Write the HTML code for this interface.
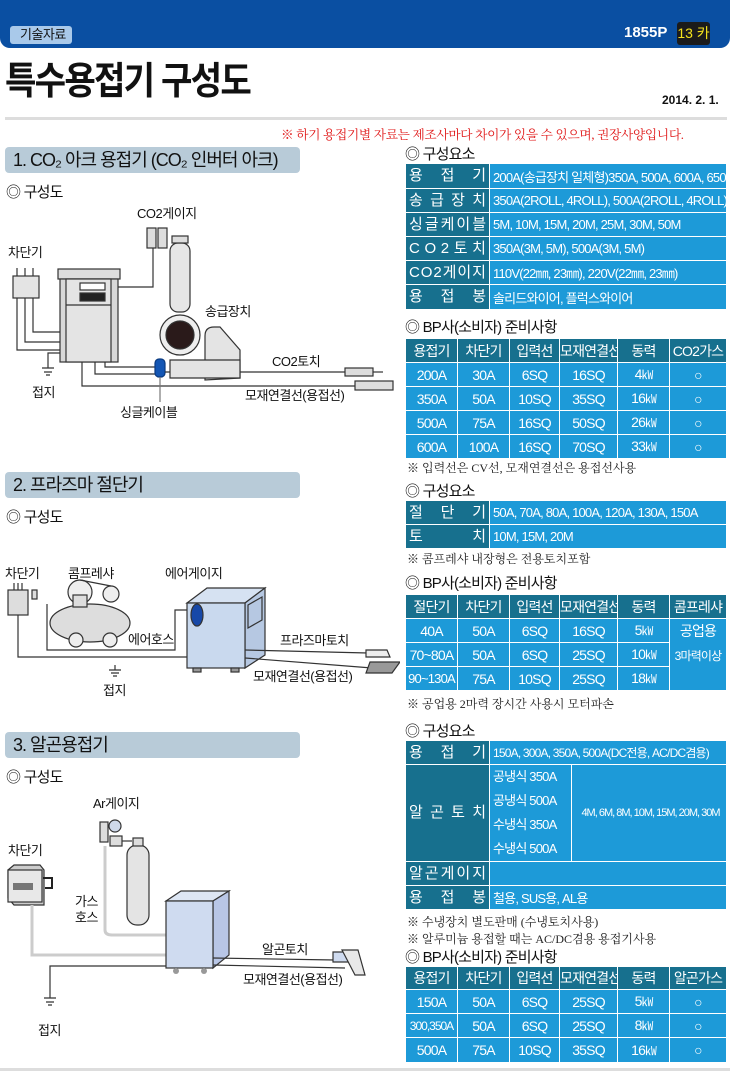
<!DOCTYPE html>
<html><head><meta charset="utf-8">
<style>
*{margin:0;padding:0;box-sizing:border-box}
body{width:730px;height:1075px;background:#fff;position:relative;overflow:hidden;font-family:"Liberation Sans","Noto Sans CJK KR",sans-serif;color:#111}
.a{position:absolute;white-space:nowrap}
.bar{position:absolute;left:5px;width:295px;height:26px;background:#b8cbd8;border-radius:4px;font-size:18px;line-height:26px;padding-left:8px;letter-spacing:-1px}
.t{font-size:15px;letter-spacing:-0.8px}
table{position:absolute;left:405px;width:322px;border-collapse:collapse;table-layout:fixed}
td{border:1.5px solid #fff;color:#fff;font-size:14px;letter-spacing:-0.8px;padding:0;white-space:nowrap;overflow:hidden}
td.h{background:#17708e;font-size:15px;letter-spacing:0;padding:0 3px;line-height:20px}
td.h div{display:flex;justify-content:space-between;align-items:center;height:20px}
td.v{background:#1d9ad8;padding-left:3px;font-size:13px}
.g td{text-align:center;background:#1d9ad8}
.g tr:first-child td{background:#17708e}
.n{font-family:"Liberation Serif","Noto Serif CJK SC",serif;font-size:12px;color:#222}
svg text{font-family:"Liberation Sans","Noto Sans CJK KR",sans-serif;font-size:13px;letter-spacing:-0.5px;fill:#111}
</style></head><body>
<div class="a" style="left:0;top:0;width:730px;height:48px;background:#0a4fa2;border-radius:0 0 10px 10px"></div>
<div class="a" style="left:10px;top:26px;width:62px;height:18px;background:#a9c9ea;border-radius:3px;font-size:13px;line-height:18px;padding-left:10px;letter-spacing:-0.5px">기술자료</div>
<div class="a" style="left:624px;top:22px;color:#fff;font-weight:bold;font-size:15px;line-height:22px">1855P</div>
<div class="a" style="left:677px;top:22px;width:33px;height:23px;background:#1b1b1b;border-radius:3px;color:#f4e21c;font-size:14px;line-height:23px;text-align:center">13 카</div>
<div class="a" style="left:5px;top:60px;font-size:38px;font-weight:bold;letter-spacing:-2px;line-height:44px;transform:scaleX(0.9);transform-origin:0 0">특수용접기 구성도</div>
<div class="a" style="left:662px;top:93px;font-size:12px;font-weight:bold">2014. 2. 1.</div>
<div class="a" style="left:5px;top:117px;width:722px;height:3px;background:#ddd"></div>
<div class="a n" style="left:281px;top:124px;color:#e01818;font-size:12.7px;letter-spacing:-0.3px">※ 하기 용접기별 자료는 제조사마다 차이가 있을 수 있으며, 권장사양입니다.</div>

<div class="bar" style="top:147px">1. CO₂ 아크 용접기 (CO₂ 인버터 아크)</div>
<div class="bar" style="top:472px">2. 프라즈마 절단기</div>
<div class="bar" style="top:732px">3. 알곤용접기</div>
<div class="a t" style="left:6px;top:181px">◎ 구성도</div>
<div class="a t" style="left:6px;top:506px">◎ 구성도</div>
<div class="a t" style="left:6px;top:766px">◎ 구성도</div>

<div class="a t" style="left:405px;top:143px">◎ 구성요소</div>
<table style="top:163px">
<col style="width:84px"><col>
<tr style="height:25px"><td class="h"><div><span>용</span><span>접</span><span>기</span></div></td><td class="v">200A(송급장치 일체형)350A, 500A, 600A, 650A</td></tr>
<tr style="height:24px"><td class="h"><div><span>송</span><span>급</span><span>장</span><span>치</span></div></td><td class="v">350A(2ROLL, 4ROLL), 500A(2ROLL, 4ROLL)</td></tr>
<tr style="height:24px"><td class="h"><div><span>싱</span><span>글</span><span>케</span><span>이</span><span>블</span></div></td><td class="v">5M, 10M, 15M, 20M, 25M, 30M, 50M</td></tr>
<tr style="height:24px"><td class="h"><div><span>C</span><span>O</span><span>2</span><span>토</span><span>치</span></div></td><td class="v">350A(3M, 5M), 500A(3M, 5M)</td></tr>
<tr style="height:24px"><td class="h"><div><span>C</span><span>O</span><span>2</span><span>게</span><span>이</span><span>지</span></div></td><td class="v">110V(22㎜, 23㎜), 220V(22㎜, 23㎜)</td></tr>
<tr style="height:25px"><td class="h"><div><span>용</span><span>접</span><span>봉</span></div></td><td class="v">솔리드와이어, 플럭스와이어</td></tr>
</table>
<div class="a t" style="left:405px;top:316px">◎ BP사(소비자) 준비사항</div>
<table class="g" style="top:338px">
<col style="width:52px"><col style="width:52px"><col style="width:50px"><col style="width:58px"><col style="width:52px"><col>
<tr style="height:24px"><td>용접기</td><td>차단기</td><td>입력선</td><td>모재연결선</td><td>동력</td><td>CO2가스</td></tr>
<tr style="height:24px"><td>200A</td><td>30A</td><td>6SQ</td><td>16SQ</td><td>4<small>㎾</small></td><td>○</td></tr>
<tr style="height:24px"><td>350A</td><td>50A</td><td>10SQ</td><td>35SQ</td><td>16<small>㎾</small></td><td>○</td></tr>
<tr style="height:24px"><td>500A</td><td>75A</td><td>16SQ</td><td>50SQ</td><td>26<small>㎾</small></td><td>○</td></tr>
<tr style="height:24px"><td>600A</td><td>100A</td><td>16SQ</td><td>70SQ</td><td>33<small>㎾</small></td><td>○</td></tr>
</table>
<div class="a n" style="left:407px;top:459px">※ 입력선은 CV선, 모재연결선은 용접선사용</div>

<div class="a t" style="left:405px;top:480px">◎ 구성요소</div>
<table style="top:500px">
<col style="width:84px"><col>
<tr style="height:24px"><td class="h"><div><span>절</span><span>단</span><span>기</span></div></td><td class="v">50A, 70A, 80A, 100A, 120A, 130A, 150A</td></tr>
<tr style="height:24px"><td class="h"><div><span>토</span><span>치</span></div></td><td class="v">10M, 15M, 20M</td></tr>
</table>
<div class="a n" style="left:407px;top:550px">※ 콤프레샤 내장형은 전용토치포함</div>
<div class="a t" style="left:405px;top:572px">◎ BP사(소비자) 준비사항</div>
<table class="g" style="top:594px">
<col style="width:52px"><col style="width:52px"><col style="width:50px"><col style="width:58px"><col style="width:52px"><col>
<tr style="height:24px"><td>절단기</td><td>차단기</td><td>입력선</td><td>모재연결선</td><td>동력</td><td>콤프레샤</td></tr>
<tr style="height:24px"><td>40A</td><td>50A</td><td>6SQ</td><td>16SQ</td><td>5<small>㎾</small></td><td rowspan="3" style="vertical-align:top;line-height:24px">공업용<br><span style="font-size:12px">3마력이상</span></td></tr>
<tr style="height:24px"><td>70~80A</td><td>50A</td><td>6SQ</td><td>25SQ</td><td>10<small>㎾</small></td></tr>
<tr style="height:24px"><td style="font-size:13px">90~130A</td><td>75A</td><td>10SQ</td><td>25SQ</td><td>18<small>㎾</small></td></tr>
</table>
<div class="a n" style="left:407px;top:695px">※ 공업용 2마력 장시간 사용시 모터파손</div>

<div class="a t" style="left:405px;top:720px">◎ 구성요소</div>
<table style="top:740px">
<col style="width:84px"><col style="width:82px"><col>
<tr style="height:24px"><td class="h"><div><span>용</span><span>접</span><span>기</span></div></td><td class="v" colspan="2" style="font-size:12px">150A, 300A, 350A, 500A(DC전용, AC/DC겸용)</td></tr>
<tr style="height:97px"><td class="h"><div><span>알</span><span>곤</span><span>토</span><span>치</span></div></td><td class="v" style="border-right:1.5px dashed #fff;line-height:24px;font-size:13px">공냉식 350A<br>공냉식 500A<br>수냉식 350A<br>수냉식 500A</td><td class="v" style="text-align:center;font-size:11px;letter-spacing:-1px">4M, 6M, 8M, 10M, 15M, 20M, 30M</td></tr>
<tr style="height:24px"><td class="h"><div><span>알</span><span>곤</span><span>게</span><span>이</span><span>지</span></div></td><td class="v" colspan="2"></td></tr>
<tr style="height:24px"><td class="h"><div><span>용</span><span>접</span><span>봉</span></div></td><td class="v" colspan="2">철용, SUS용, AL용</td></tr>
</table>
<div class="a n" style="left:407px;top:913px">※ 수냉장치 별도판매 (수냉토치사용)</div>
<div class="a n" style="left:407px;top:930px">※ 알루미늄 용접할 때는 AC/DC겸용 용접기사용</div>
<div class="a t" style="left:405px;top:946px">◎ BP사(소비자) 준비사항</div>
<table class="g" style="top:966px">
<col style="width:52px"><col style="width:52px"><col style="width:50px"><col style="width:58px"><col style="width:52px"><col>
<tr style="height:23px"><td>용접기</td><td>차단기</td><td>입력선</td><td>모재연결선</td><td>동력</td><td>알곤가스</td></tr>
<tr style="height:24px"><td>150A</td><td>50A</td><td>6SQ</td><td>25SQ</td><td>5<small>㎾</small></td><td>○</td></tr>
<tr style="height:24px"><td style="font-size:12px;letter-spacing:-1px">300,350A</td><td>50A</td><td>6SQ</td><td>25SQ</td><td>8<small>㎾</small></td><td>○</td></tr>
<tr style="height:25px"><td>500A</td><td>75A</td><td>10SQ</td><td>35SQ</td><td>16<small>㎾</small></td><td>○</td></tr>
</table>
<div class="a" style="left:0;top:1068px;width:730px;height:3px;background:#ddd"></div>

<svg class="a" style="left:0;top:0" width="400" height="1075" viewBox="0 0 400 1075">
<g stroke="#333" stroke-width="1.2" fill="none">
<text x="137" y="218" stroke="none">CO2게이지</text>
<rect x="147" y="228" width="9" height="20" fill="#ddd"/><rect x="158" y="228" width="9" height="20" fill="#ddd"/>
<rect x="170" y="243" width="20" height="69" rx="8" fill="#e6e6e6"/><rect x="172" y="236" width="16" height="7" fill="#ddd"/>
<text x="8" y="257" stroke="none">차단기</text>
<path d="M17 268V276M25 268V276M33 268V276"/>
<rect x="13" y="276" width="26" height="22" fill="#e4e4e4"/>
<path d="M17 298V350H60M25 298V342H60M33 298V332H60"/>
<rect x="58" y="269" width="62" height="10" fill="#ddd"/>
<rect x="60" y="279" width="58" height="83" fill="#d8d8d8"/>
<rect x="66" y="279" width="45" height="83" fill="#e4e4e4"/>
<rect x="80" y="283" width="25" height="7" fill="#fff"/><rect x="80" y="293" width="25" height="8" fill="#222"/>
<path d="M66 305H111"/>
<path d="M60 353H48V368M42 368H54M44 372H52M46 375H50"/>
<text x="32" y="397" stroke="none">접지</text>
<path d="M118 287H153V248"/>
<text x="205" y="316" stroke="none">송급장치</text>
<path d="M205 380V336Q205 327 214 327H220L240 350V378Z" fill="#e4e4e4"/>
<path d="M170 360H240V378H170Z" fill="#e4e4e4"/>
<circle cx="180" cy="335" r="20" fill="#eee"/><circle cx="180" cy="335" r="14" fill="#2a1a1a"/>
<path d="M82 362V386H355M95 362V374H155M105 362V367H155"/>
<rect x="155" y="359" width="10" height="18" rx="4" fill="#1456b4" stroke="#0a3a80"/>
<path d="M160 377V402" stroke="#777"/>
<text x="120" y="417" stroke="none">싱글케이블</text>
<path d="M165 372H170M240 372H345"/>
<rect x="345" y="368" width="28" height="8" fill="#ddd"/><path d="M373 372H383"/>
<text x="272" y="366" stroke="none">CO2토치</text>
<rect x="355" y="381" width="38" height="9" fill="#ddd"/>
<text x="245" y="400" stroke="none">모재연결선(용접선)</text>
</g>
<g stroke="#333" stroke-width="1.2" fill="none">
<text x="5" y="578" stroke="none">차단기</text>
<text x="68" y="578" stroke="none">콤프레샤</text>
<text x="165" y="578" stroke="none">에어게이지</text>
<path d="M14 583V590M18 583V590M22 583V590"/>
<rect x="8" y="590" width="20" height="25" fill="#ddd"/><rect x="32" y="590" width="5" height="9" fill="#ddd"/>
<path d="M18 615V657H187"/>
<path d="M47 604V650H175V610H187"/>
<ellipse cx="90" cy="623" rx="40" ry="19" fill="#ddd"/>
<circle cx="76" cy="640" r="7" fill="#eee"/><circle cx="110" cy="640" r="7" fill="#eee"/>
<circle cx="80" cy="592" r="12" fill="#eee"/><circle cx="111" cy="594" r="8" fill="#eee"/>
<rect x="73" y="595" width="14" height="12" fill="#ddd"/>
<path d="M80 580L111 586"/>
<text x="128" y="644" stroke="none">에어호스</text>
<path d="M187 603L207 588H265L245 603Z" fill="#d6e2f2"/>
<path d="M245 603L265 588V655L245 668Z" fill="#b6c8e2"/>
<rect x="187" y="603" width="58" height="65" fill="#c9d9ee"/>
<path d="M248 605L262 597V620L248 628Z"/>
<rect x="193" y="668" width="8" height="4" fill="#999"/><rect x="231" y="668" width="8" height="4" fill="#999"/>
<ellipse cx="197" cy="615" rx="6" ry="11" fill="#1648a8"/>
<path d="M115 665V670M109 670H121M111 673H119M113 676H117"/>
<text x="103" y="695" stroke="none">접지</text>
<text x="280" y="645" stroke="none">프라즈마토치</text>
<path d="M245 650L368 653M245 658L372 668"/>
<path d="M366 650H387L390 657H366Z" fill="#eee"/>
<path d="M370 662H400L392 673H366Z" fill="#999"/>
<text x="253" y="681" stroke="none">모재연결선(용접선)</text>
</g>
<g stroke="#333" stroke-width="1.2" fill="none">
<text x="93" y="808" stroke="none">Ar게이지</text>
<rect x="100" y="822" width="8" height="20" fill="#ddd"/><circle cx="115" cy="826" r="6" fill="#cfd9ea"/><rect x="110" y="836" width="12" height="10" fill="#ddd"/>
<path d="M122 841H132"/>
<rect x="127" y="845" width="22" height="80" rx="10" fill="#e4e4e4"/><rect x="133" y="838" width="10" height="8" fill="#ddd"/>
<text x="8" y="855" stroke="none">차단기</text>
<path d="M8 870L14 865H40L44 870V905H14L8 898Z" fill="#ccc"/>
<rect x="8" y="870" width="34" height="32" fill="#e8e8e8"/>
<rect x="13" y="883" width="20" height="7" fill="#777" stroke="none"/>
<path d="M43 878H52V888H45" stroke="#222" stroke-width="2"/>
<path d="M105 846V930Q105 935 112 935H166M32 905V955H166" stroke="#ccc" stroke-width="3"/>
<text x="75" y="906" stroke="none">가스</text><text x="75" y="922" stroke="none">호스</text>
<path d="M166 901L181 891H229L213 901Z" fill="#dde6f4"/>
<path d="M213 901L229 891V955L213 968Z" fill="#b8c6e6"/>
<rect x="166" y="901" width="47" height="67" fill="#cfdbf0"/>
<circle cx="176" cy="971" r="3" fill="#999" stroke="none"/><circle cx="204" cy="971" r="3" fill="#999" stroke="none"/>
<path d="M166 966H50V998M44 998H56M46 1002H54M48 1005H52"/>
<text x="38" y="1035" stroke="none">접지</text>
<text x="262" y="954" stroke="none">알곤토치</text>
<path d="M213 958L335 960M213 965L345 968"/>
<path d="M333 952H352L364 972H356L350 962H333Z" fill="#cfdbf0"/>
<path d="M342 950H358L365 975H355Z" fill="#e8e8e8"/>
<text x="243" y="984" stroke="none">모재연결선(용접선)</text>
</g>
</svg>
</body></html>
